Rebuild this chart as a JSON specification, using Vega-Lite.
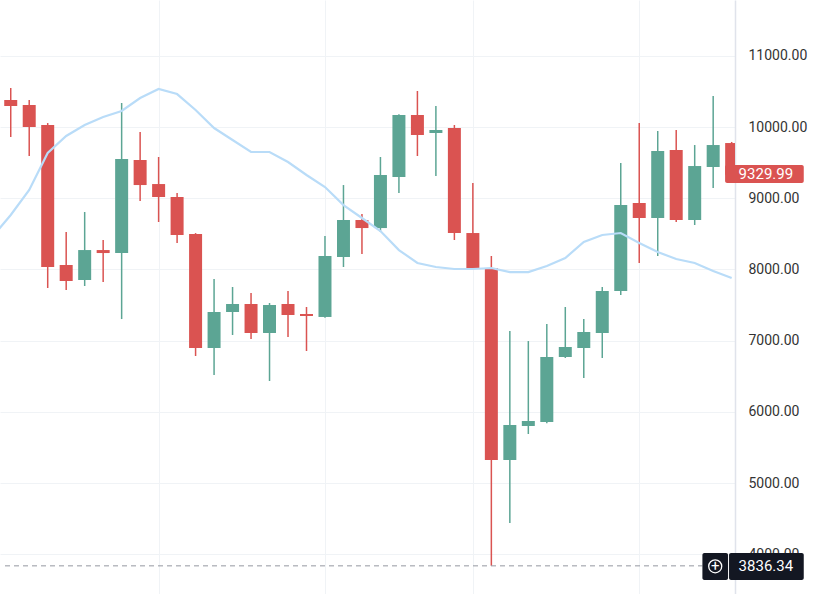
{
  "$schema": "https://vega.github.io/schema/vega-lite/v6.json",
  "width": 735,
  "height": 594,
  "padding": {"left": 0, "top": 0, "right": 94, "bottom": 0},
  "autosize": {"type": "none"},
  "background": "#ffffff",
  "config": {
    "view": {"stroke": null},
    "font": "Roboto",
    "axis": {"labelFont": "Roboto", "gridColor": "#f0f3f6", "gridWidth": 1}
  },
  "datasets": {
    "candles": [
      {"i": 1, "o": 10379, "h": 10548, "l": 9860, "c": 10295},
      {"i": 2, "o": 10309, "h": 10379, "l": 9593, "c": 10000},
      {"i": 3, "o": 10028, "h": 10056, "l": 7739, "c": 8034},
      {"i": 4, "o": 8062, "h": 8525, "l": 7711, "c": 7837},
      {"i": 5, "o": 7851, "h": 8806, "l": 7767, "c": 8272},
      {"i": 6, "o": 8272, "h": 8413, "l": 7823, "c": 8230},
      {"i": 7, "o": 8230, "h": 10337, "l": 7303, "c": 9551},
      {"i": 8, "o": 9537, "h": 9930, "l": 8961, "c": 9185},
      {"i": 9, "o": 9199, "h": 9579, "l": 8666, "c": 9017},
      {"i": 10, "o": 9017, "h": 9073, "l": 8371, "c": 8483},
      {"i": 11, "o": 8497, "h": 8510, "l": 6784, "c": 6896},
      {"i": 12, "o": 6896, "h": 7865, "l": 6517, "c": 7402},
      {"i": 13, "o": 7402, "h": 7753, "l": 7079, "c": 7514},
      {"i": 14, "o": 7514, "h": 7669, "l": 7022, "c": 7107},
      {"i": 15, "o": 7107, "h": 7528, "l": 6433, "c": 7500},
      {"i": 16, "o": 7514, "h": 7697, "l": 7051, "c": 7360},
      {"i": 17, "o": 7374, "h": 7472, "l": 6854, "c": 7346},
      {"i": 18, "o": 7332, "h": 8469, "l": 7320, "c": 8188},
      {"i": 19, "o": 8174, "h": 9185, "l": 8034, "c": 8694},
      {"i": 20, "o": 8694, "h": 8778, "l": 8216, "c": 8581},
      {"i": 21, "o": 8581, "h": 9579, "l": 8525, "c": 9326},
      {"i": 22, "o": 9298, "h": 10180, "l": 9073, "c": 10169},
      {"i": 23, "o": 10169, "h": 10506, "l": 9593, "c": 9888},
      {"i": 24, "o": 9916, "h": 10295, "l": 9312, "c": 9958},
      {"i": 25, "o": 9986, "h": 10028, "l": 8413, "c": 8511},
      {"i": 26, "o": 8511, "h": 9213, "l": 7992, "c": 8006},
      {"i": 27, "o": 8020, "h": 8188, "l": 3836.34, "c": 5323},
      {"i": 28, "o": 5323, "h": 7135, "l": 4438, "c": 5815},
      {"i": 29, "o": 5801, "h": 6994, "l": 5688, "c": 5871},
      {"i": 30, "o": 5857, "h": 7233, "l": 5840, "c": 6770},
      {"i": 31, "o": 6770, "h": 7472, "l": 6756, "c": 6910},
      {"i": 32, "o": 6896, "h": 7303, "l": 6475, "c": 7121},
      {"i": 33, "o": 7107, "h": 7753, "l": 6756, "c": 7697},
      {"i": 34, "o": 7697, "h": 9494, "l": 7640, "c": 8904},
      {"i": 35, "o": 8933, "h": 10056, "l": 8090, "c": 8722},
      {"i": 36, "o": 8722, "h": 9944, "l": 8188, "c": 9663},
      {"i": 37, "o": 9677, "h": 9958, "l": 8666, "c": 8694},
      {"i": 38, "o": 8694, "h": 9747, "l": 8624, "c": 9452},
      {"i": 39, "o": 9438, "h": 10435, "l": 9143, "c": 9747},
      {"i": 40, "o": 9775, "h": 9790, "l": 9280, "c": 9329.99}
    ],
    "ma": [
      {"i": 0, "ma": 8455}, {"i": 1, "ma": 8764}, {"i": 2, "ma": 9115}, {"i": 3, "ma": 9635},
      {"i": 4, "ma": 9874}, {"i": 5, "ma": 10028}, {"i": 6, "ma": 10140}, {"i": 7, "ma": 10225},
      {"i": 8, "ma": 10407}, {"i": 9, "ma": 10534}, {"i": 10, "ma": 10463}, {"i": 11, "ma": 10239},
      {"i": 12, "ma": 9986}, {"i": 13, "ma": 9817}, {"i": 14, "ma": 9649}, {"i": 15, "ma": 9649},
      {"i": 16, "ma": 9508}, {"i": 17, "ma": 9326}, {"i": 18, "ma": 9157}, {"i": 19, "ma": 8904},
      {"i": 20, "ma": 8722}, {"i": 21, "ma": 8539}, {"i": 22, "ma": 8272}, {"i": 23, "ma": 8090},
      {"i": 24, "ma": 8034}, {"i": 25, "ma": 8006}, {"i": 26, "ma": 8006}, {"i": 27, "ma": 8020},
      {"i": 28, "ma": 7963}, {"i": 29, "ma": 7963}, {"i": 30, "ma": 8048}, {"i": 31, "ma": 8160},
      {"i": 32, "ma": 8385}, {"i": 33, "ma": 8483}, {"i": 34, "ma": 8511}, {"i": 35, "ma": 8371},
      {"i": 36, "ma": 8244}, {"i": 37, "ma": 8146}, {"i": 38, "ma": 8090}, {"i": 39, "ma": 7978},
      {"i": 40, "ma": 7879}
    ],
    "one": [{}]
  },
  "layer": [
    {
      "data": {"name": "candles"},
      "mark": {"type": "rule", "clip": true, "strokeWidth": 1.5},
      "encoding": {
        "x": {
          "field": "i", "type": "quantitative",
          "scale": {"domain": [0.69, 39.91], "nice": false, "zero": false},
          "axis": {"values": [9, 18, 26, 35], "grid": true, "labels": false, "ticks": false, "domain": false, "title": null}
        },
        "y": {
          "field": "l", "type": "quantitative",
          "scale": {"domain": [3441, 11784], "nice": false, "zero": false},
          "axis": {
            "orient": "right", "values": [4000, 5000, 6000, 7000, 8000, 9000, 10000, 11000],
            "format": ".2f", "title": null, "ticks": false, "labelPadding": 13,
            "labelFontSize": 14, "labelColor": "#333333", "domainColor": "#e0e3eb", "domainWidth": 1.5
          }
        },
        "y2": {"field": "h"},
        "color": {"condition": {"test": "datum.c >= datum.o", "value": "#5ca594"}, "value": "#da5351"}
      }
    },
    {
      "data": {"name": "candles"},
      "mark": {"type": "bar", "clip": true, "size": 13},
      "encoding": {
        "x": {"field": "i", "type": "quantitative"},
        "y": {"field": "o", "type": "quantitative"},
        "y2": {"field": "c"},
        "color": {"condition": {"test": "datum.c >= datum.o", "value": "#5ca594"}, "value": "#da5351"}
      }
    },
    {
      "data": {"name": "ma"},
      "mark": {"type": "line", "clip": true, "strokeWidth": 2.2, "color": "#b9dcf8"},
      "encoding": {
        "x": {"field": "i", "type": "quantitative"},
        "y": {"field": "ma", "type": "quantitative"}
      }
    },
    {
      "data": {"name": "one"},
      "mark": {"type": "rule", "strokeDash": [5, 4], "color": "#9598a1", "strokeWidth": 1},
      "encoding": {
        "x": {"datum": 0.69}, "x2": {"datum": 38.417},
        "y": {"datum": 3836.34}
      }
    },
    {
      "data": {"name": "one"},
      "mark": {"type": "rect", "color": "#131722", "cornerRadius": 2, "clip": false},
      "encoding": {
        "x": {"datum": 38.417}, "x2": {"datum": 39.805},
        "y": {"datum": 4017}, "y2": {"datum": 3638}
      }
    },
    {
      "data": {"name": "one"},
      "mark": {"type": "rect", "color": "#131722", "cornerRadius": 2, "clip": false},
      "encoding": {
        "x": {"datum": 39.858}, "x2": {"datum": 43.9},
        "y": {"datum": 4017}, "y2": {"datum": 3638}
      }
    },
    {
      "data": {"name": "one"},
      "mark": {"type": "point", "shape": "circle", "size": 170, "filled": false, "stroke": "#ffffff", "strokeWidth": 1.3, "opacity": 1, "clip": false},
      "encoding": {
        "x": {"datum": 39.11},
        "y": {"datum": 3830}
      }
    },
    {
      "data": {"name": "one"},
      "mark": {"type": "text", "text": "+", "color": "#ffffff", "fontSize": 15, "align": "center", "baseline": "middle", "clip": false},
      "encoding": {
        "x": {"datum": 39.11},
        "y": {"datum": 3830}
      }
    },
    {
      "data": {"name": "one"},
      "mark": {"type": "text", "text": "3836.34", "color": "#ffffff", "fontSize": 15, "align": "center", "baseline": "middle", "clip": false},
      "encoding": {
        "x": {"datum": 41.85},
        "y": {"datum": 3828}
      }
    },
    {
      "data": {"name": "one"},
      "mark": {"type": "rect", "color": "#da5351", "cornerRadius": 2, "clip": false},
      "encoding": {
        "x": {"datum": 39.644}, "x2": {"datum": 43.9},
        "y": {"datum": 9466}, "y2": {"datum": 9213}
      }
    },
    {
      "data": {"name": "one"},
      "mark": {"type": "text", "text": "9329.99", "color": "#ffffff", "fontSize": 15, "align": "center", "baseline": "middle", "clip": false},
      "encoding": {
        "x": {"datum": 41.85},
        "y": {"datum": 9340}
      }
    }
  ]
}
